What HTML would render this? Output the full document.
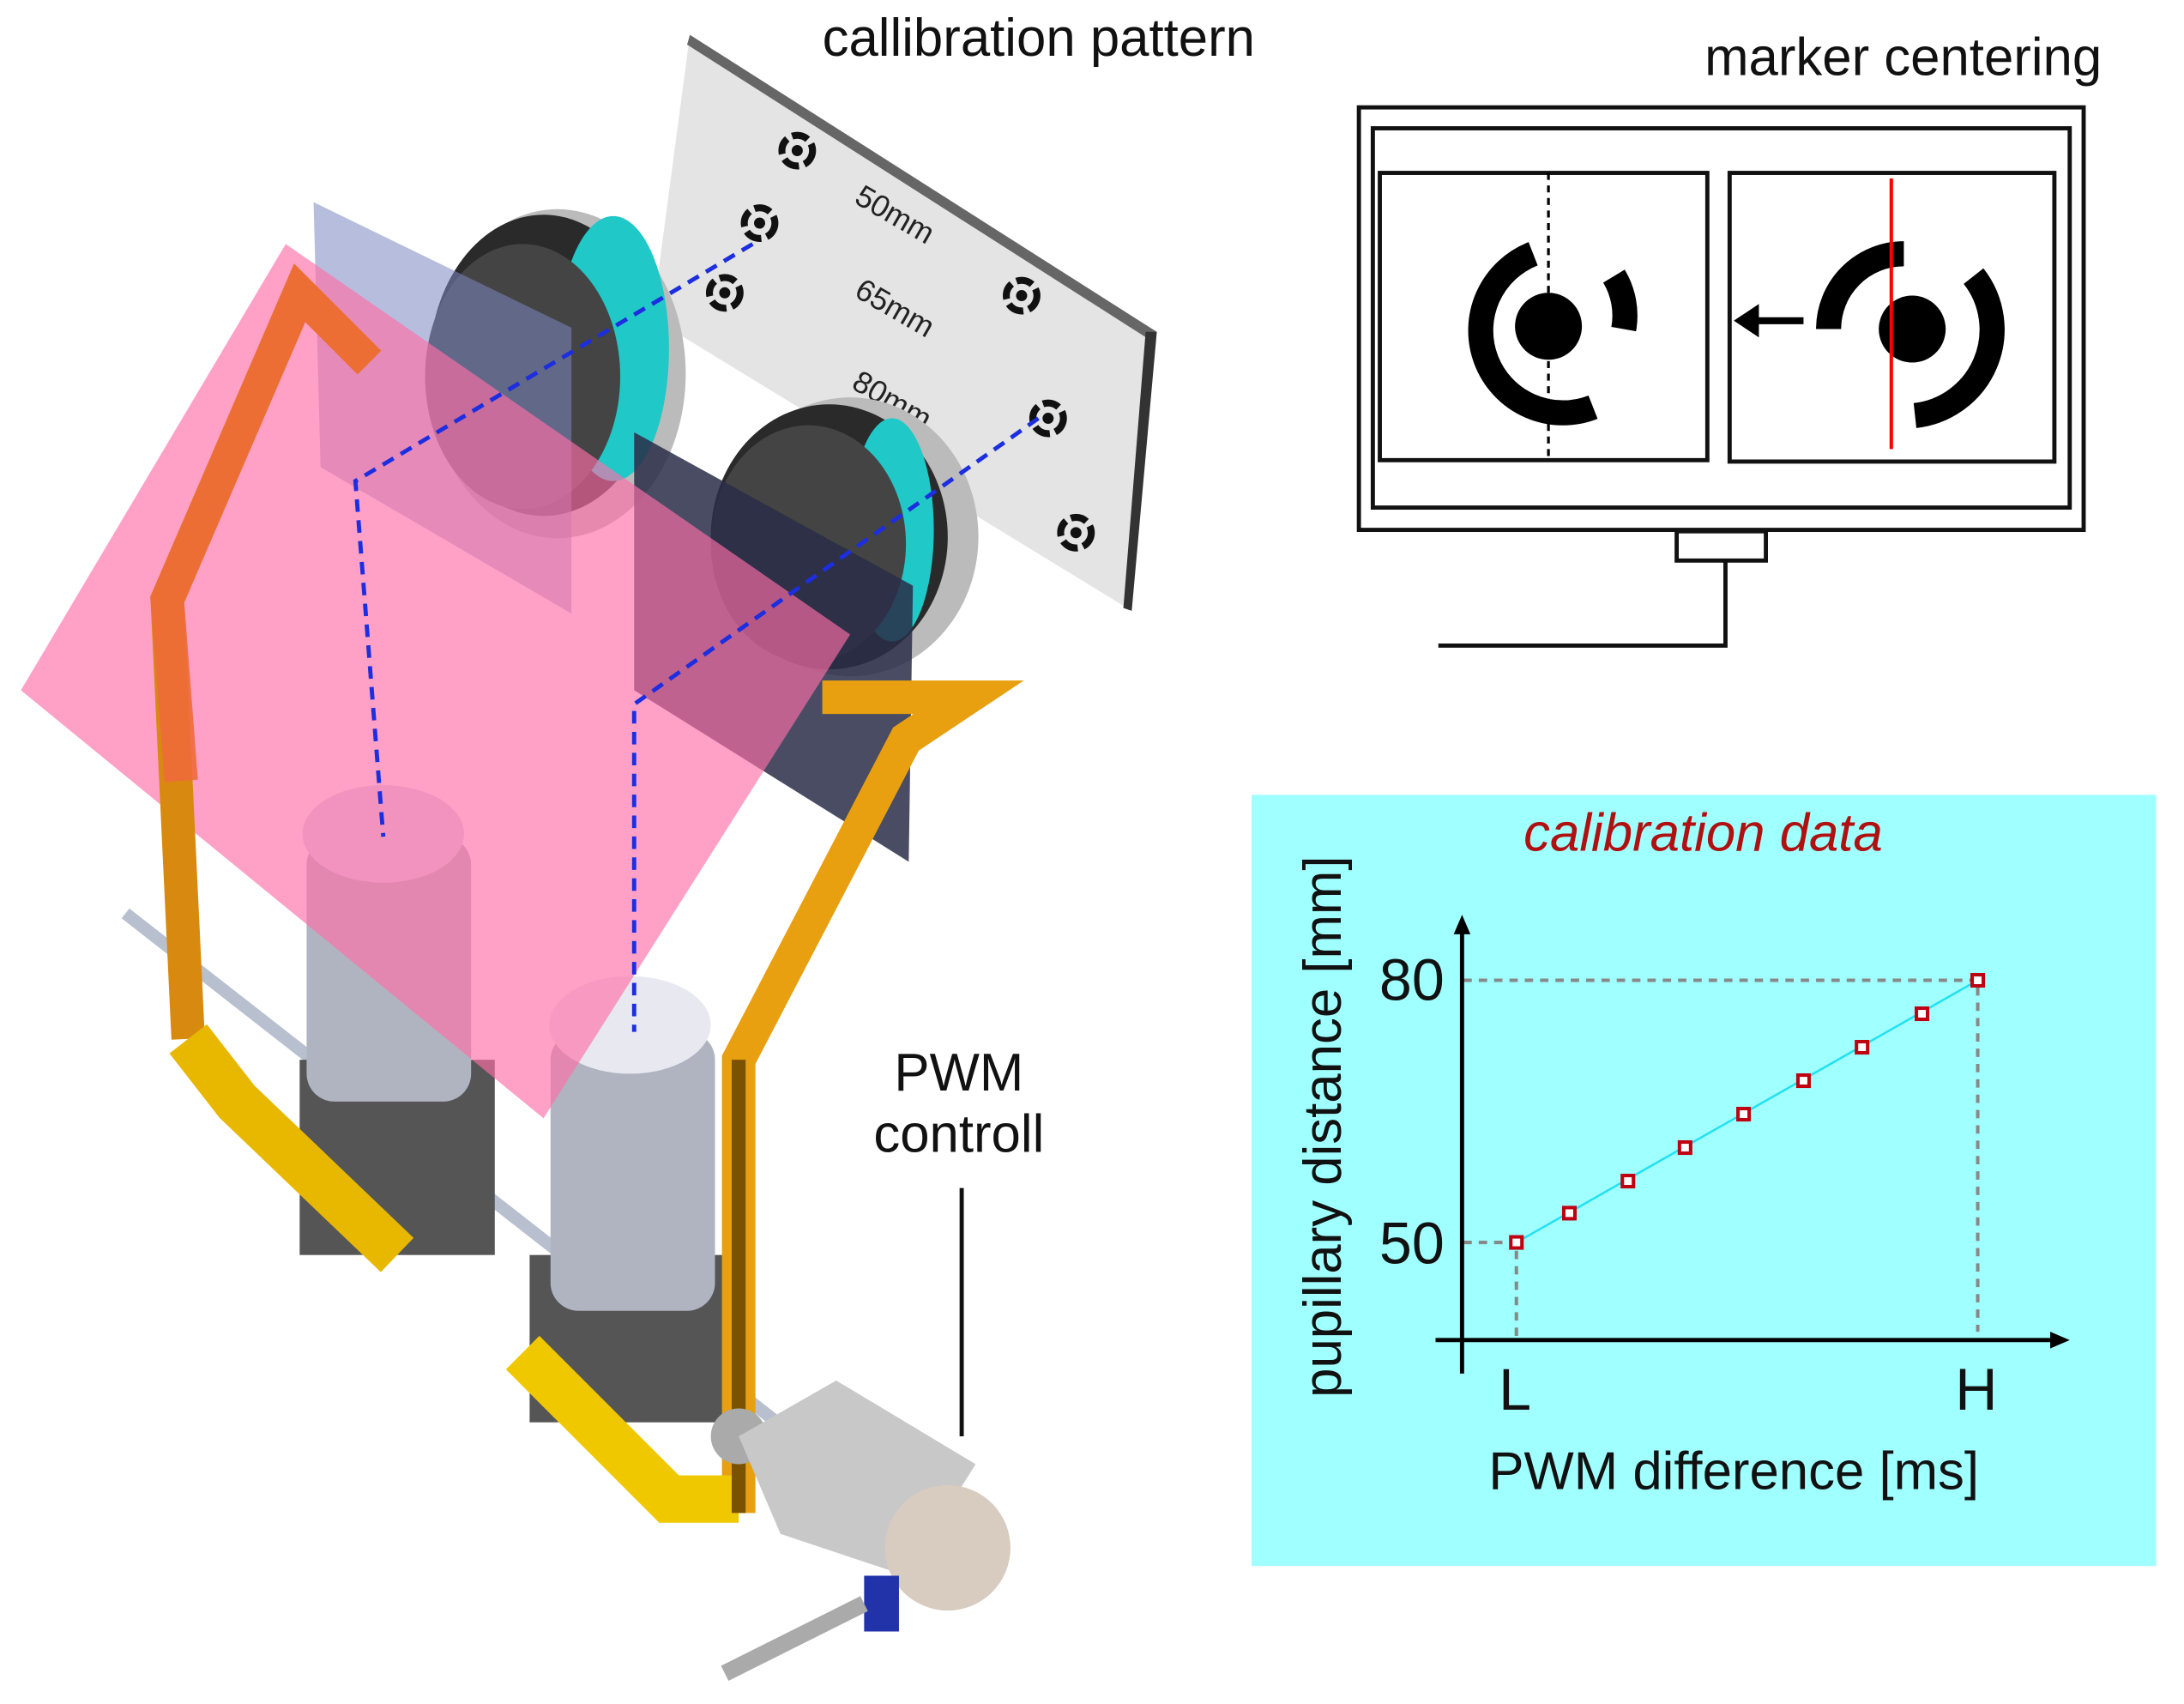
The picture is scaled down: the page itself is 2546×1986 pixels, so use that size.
<!DOCTYPE html>
<html><head><style>html,body{margin:0;padding:0;background:#fff}svg{display:block}text{font-family:"Liberation Sans",sans-serif}</style></head>
<body>
<svg width="2546" height="1986" viewBox="0 0 1567 1222" preserveAspectRatio="none" xmlns="http://www.w3.org/2000/svg">
<rect width="1567" height="1222" fill="#fff"/>
<!-- calibration board -->
<polygon points="495,25 830,238 812,438 468,228" fill="#e4e4e4"/>
<polygon points="495,25 830,238 827,245 493,32" fill="#666"/>
<polygon points="822,238 830,238 812,438 806,436" fill="#333"/>
<g fill="none" stroke="#111" stroke-width="5" stroke-dasharray="12,4">
<circle cx="572" cy="108" r="11"/><circle cx="545" cy="160" r="11"/><circle cx="520" cy="210" r="11"/>
<circle cx="733" cy="212" r="11"/><circle cx="752" cy="300" r="11"/><circle cx="772" cy="382" r="11"/>
</g>
<g fill="#111"><circle cx="572" cy="108" r="4"/><circle cx="545" cy="160" r="4"/><circle cx="520" cy="210" r="4"/><circle cx="733" cy="212" r="4"/><circle cx="752" cy="300" r="4"/><circle cx="772" cy="382" r="4"/></g>
<g font-size="22" fill="#222"><text transform="translate(612,145) rotate(30)">50mm</text><text transform="translate(612,212) rotate(30)">65mm</text><text transform="translate(610,278) rotate(30)">80mm</text></g>
<text x="590" y="40" font-size="38" fill="#111">callibration pattern</text>
<!-- lenses top -->
<ellipse cx="400" cy="268" rx="92" ry="118" fill="#bbb"/>
<ellipse cx="390" cy="262" rx="82" ry="108" fill="#2a2a2a"/>
<ellipse cx="440" cy="250" rx="40" ry="95" fill="#20c8c8"/>
<ellipse cx="375" cy="270" rx="70" ry="95" fill="#444"/>
<ellipse cx="610" cy="385" rx="92" ry="100" fill="#bbb"/>
<ellipse cx="595" cy="385" rx="85" ry="95" fill="#2a2a2a"/>
<ellipse cx="640" cy="380" rx="30" ry="80" fill="#20c8c8"/>
<ellipse cx="580" cy="390" rx="70" ry="85" fill="#444"/>
<!-- filters -->
<polygon points="225,145 410,235 410,440 230,335" fill="#7b86c0" opacity="0.55"/>
<polygon points="455,310 655,420 652,618 455,495" fill="#2a2d48" opacity="0.85"/>
<!-- rod & cameras -->
<line x1="90" y1="655" x2="560" y2="1022" stroke="#b8c0d0" stroke-width="9"/>
<rect x="215" y="760" width="140" height="140" fill="#555"/>
<rect x="220" y="600" width="118" height="190" rx="20" fill="#b0b4c0"/>
<ellipse cx="275" cy="598" rx="58" ry="35" fill="#d8d8e8"/>
<rect x="380" y="900" width="140" height="120" fill="#555"/>
<rect x="395" y="740" width="118" height="200" rx="20" fill="#b0b4c0"/>
<ellipse cx="452" cy="735" rx="58" ry="35" fill="#e8e8f0"/>
<!-- pink plane -->
<polygon points="15,495 205,175 610,455 390,802" fill="#ff6ea8" opacity="0.65"/>
<!-- frame -->
<polyline points="265,260 215,210 120,430 135,745" fill="none" stroke="#d88a10" stroke-width="24" stroke-linejoin="miter"/>
<polyline points="265,260 215,210 120,430 130,560" fill="none" stroke="#f06a3a" stroke-width="24" opacity="0.9"/>
<polyline points="135,745 170,790 285,900" fill="none" stroke="#e8b800" stroke-width="34"/>
<polyline points="590,500 695,500 650,530 530,760 530,1085" fill="none" stroke="#e8a010" stroke-width="24"/>
<polyline points="530,1075 480,1075 375,970" fill="none" stroke="#f0c800" stroke-width="34"/>
<polyline points="530,760 530,1085" fill="none" stroke="#7a5200" stroke-width="10"/>
<!-- blue dashed -->
<g fill="none" stroke="#1c2ee0" stroke-width="3" stroke-dasharray="9,6">
<polyline points="540,175 255,345 275,600"/><polyline points="745,300 455,505 455,740"/>
</g>
<!-- motor -->
<circle cx="530" cy="1030" r="20" fill="#aaa"/>
<polygon points="530,1030 600,990 700,1050 650,1130 560,1100" fill="#c8c8c8"/>
<ellipse cx="680" cy="1110" rx="45" ry="45" fill="#d8ccc0"/>
<rect x="620" y="1130" width="25" height="40" fill="#2233aa"/>
<line x1="520" y1="1200" x2="620" y2="1150" stroke="#aaa" stroke-width="12"/>
<text x="688" y="782" font-size="38" text-anchor="middle" fill="#111">PWM</text>
<text x="688" y="826" font-size="38" text-anchor="middle" fill="#111">controll</text>
<line x1="690" y1="852" x2="690" y2="1030" stroke="#111" stroke-width="3"/>
<!-- monitor -->
<text x="1223" y="54" font-size="38" fill="#111">marker centering</text>
<g fill="none" stroke="#111" stroke-width="3">
<rect x="975" y="77" width="520" height="303"/>
<rect x="985" y="92" width="500" height="272"/>
<rect x="990" y="124" width="235" height="206"/>
<rect x="1241" y="124" width="233" height="207"/>
<rect x="1203" y="381" width="64" height="21"/>
<polyline points="1238,402 1238,463 1032,463"/>
</g>
<g fill="none" stroke="#000" stroke-width="18">
<path d="M1100,182 A55,55 0 1,0 1143,292"/>
<path d="M1158,198 A55,55 0 0,1 1165,236"/>
<path d="M1312,236 A54,54 0 0,1 1366,182"/>
<path d="M1416,198 A62,62 0 0,1 1374,298"/>
</g>
<circle cx="1111" cy="234" r="24" fill="#000"/>
<circle cx="1372" cy="236" r="24" fill="#000"/>
<line x1="1111" y1="124" x2="1111" y2="330" stroke="#000" stroke-width="2" stroke-dasharray="5,4"/>
<line x1="1357" y1="128" x2="1357" y2="322" stroke="#f00" stroke-width="2.5"/>
<line x1="1294" y1="230" x2="1260" y2="230" stroke="#000" stroke-width="5"/>
<polygon points="1244,230 1262,218 1262,242" fill="#000"/>
<!-- chart -->
<rect x="898" y="570" width="649" height="553" fill="#a0ffff"/>
<text x="1222" y="610" font-size="38" font-style="italic" fill="#b01010" text-anchor="middle">calibration data</text>
<g stroke="#888" stroke-width="2.5" stroke-dasharray="6,5" fill="none">
<polyline points="1050,703 1419,703 1419,955"/><polyline points="1050,891 1088,891 1088,958"/>
</g>
<polyline points="1088,891 1419,703" stroke="#20e0f0" stroke-width="1.5" fill="none"/>
<line x1="1049" y1="664" x2="1049" y2="985" stroke="#000" stroke-width="3"/>
<polygon points="1049,656 1043,670 1055,670" fill="#000"/>
<line x1="1030" y1="961" x2="1476" y2="961" stroke="#000" stroke-width="3"/>
<polygon points="1485,961 1471,955 1471,967" fill="#000"/>
<g fill="#fff" stroke="#c00010" stroke-width="2.5">
<rect x="1084" y="887" width="8" height="8"/><rect x="1122" y="866" width="8" height="8"/><rect x="1164" y="843" width="8" height="8"/><rect x="1205" y="819" width="8" height="8"/><rect x="1247" y="795" width="8" height="8"/><rect x="1290" y="771" width="8" height="8"/><rect x="1332" y="747" width="8" height="8"/><rect x="1375" y="723" width="8" height="8"/><rect x="1415" y="699" width="8" height="8"/>
</g>
<g font-size="42" fill="#111">
<text x="1013" y="717" text-anchor="middle">80</text><text x="1013" y="906" text-anchor="middle">50</text>
<text x="1087" y="1011" text-anchor="middle">L</text><text x="1418" y="1011" text-anchor="middle">H</text>
</g>
<text x="1244" y="1068" font-size="38" text-anchor="middle" fill="#111">PWM difference [ms]</text>
<text transform="translate(962,808) rotate(-90)" font-size="38" text-anchor="middle" fill="#111">pupillary distance [mm]</text>
</svg>
</body></html>
